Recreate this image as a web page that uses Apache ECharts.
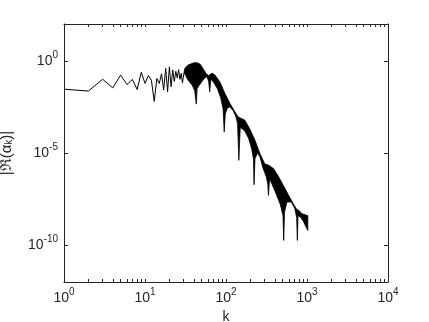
<!DOCTYPE html>
<html>
<head>
<meta charset="utf-8">
<script src="https://cdn.jsdelivr.net/npm/echarts@6.0.0/dist/echarts.min.js"></script>
<style>
html, body { margin: 0; padding: 0; background: #fff; }
#chart { width: 429px; height: 322px; }
</style>
</head>
<body>
<div id="chart"></div>
<script>
// sparse start of the spectrum, one point per k
var lineK = [1, 2, 3, 4, 5, 6, 7, 8, 9, 10, 11, 12, 13, 14, 15,
	16, 17, 18, 19, 20, 21, 22, 23, 24, 25, 26, 27, 28, 29, 30];
var lineVal = [2.9e-2, 2.3e-2, 1.0e-1, 3.4e-2, 1.7e-1, 5.2e-2, 9.8e-2, 2.8e-2, 2.4e-1, 6.0e-2,
	1.6e-1, 8.9e-2, 6.3e-3, 1.1e-1, 5.9e-2, 2.0e-1, 2.6e-2, 3.9e-1, 2.1e-2, 4.7e-1,
	3.9e-2, 3.2e-1, 7.6e-2, 2.7e-1, 1.2e-1, 3.3e-1, 1.0e-1, 2.1e-1, 6.3e-2, 1.8e-1];

// dense part (k >= 30): the oscillation fills a band, read as its two envelopes
var upperK = [30, 31, 34, 40, 44, 48, 52, 57, 61, 64, 67, 73, 84, 97, 112, 129, 141,
	171, 196, 228, 262, 302, 335, 388, 448, 515, 594, 685, 753, 790, 867, 1000, 1024];
var upperVal = [1.8e-1, 3.9e-1, 5.9e-1, 7.9e-1, 7.9e-1, 6.6e-1, 3.9e-1, 2.0e-1, 1.6e-1, 1.8e-1,
	2.2e-1, 1.7e-1, 7.2e-2, 1.7e-2, 4.8e-3, 1.7e-3, 9.1e-4,
	6.0e-4, 2.1e-4, 4.9e-5, 9.3e-6, 2.5e-6, 2.2e-6, 1.4e-6, 5.0e-7, 1.6e-7, 5.0e-8, 1.6e-8,
	8.3e-9, 7.9e-9, 5.1e-9, 4.1e-9, 4.0e-9];
var lowerK = [30, 31, 34, 38, 41, 43, 44, 48, 53, 58, 61, 63, 65, 70, 78, 86, 92, 95, 98,
	104, 112, 122, 132, 139, 144, 150, 170, 190, 208, 218, 222, 228, 245, 262, 285, 315,
	328, 334, 345, 406, 468, 505, 516, 528, 566, 640, 705, 745, 760, 775, 830, 900, 960, 1024];
var lowerVal = [1.8e-1, 2.0e-1, 8.9e-2, 5.0e-2, 2.5e-2, 4.5e-3, 3.2e-2, 5.6e-2, 1.0e-1, 1.4e-1,
	7.9e-2, 2.1e-2, 1.0e-1, 7.1e-2, 3.2e-2, 1.0e-2, 2.5e-3, 1.4e-4, 1.3e-3,
	2.8e-3, 3.2e-3, 2.0e-3, 1.0e-3, 4.0e-4, 4.0e-6, 2.5e-4, 1.6e-4, 6.3e-5, 1.6e-5, 5.0e-6,
	1.9e-7, 5.0e-6, 1.0e-5, 6.3e-6, 1.6e-6, 5.0e-7,
	2.0e-7, 5.0e-8, 4.0e-7, 7.9e-8, 1.6e-8, 4.0e-9, 1.8e-10, 6.3e-9, 2.2e-8, 2.2e-8, 1.0e-8,
	3.2e-9, 1.8e-10, 4.0e-9, 3.3e-9, 2.0e-9, 1.1e-9, 6.3e-10];

// tick labels
var xLabelValues = [1, 10, 100, 1000, 10000];
var yLabelValues = [1e-10, 1e-5, 1];
var xDecades = [1, 10, 100, 1000];
var xSteps = [1, 2, 3, 4, 5, 6, 7, 8, 9];

var axisColor = '#262626';
var font = 'Liberation Sans, Arial, sans-serif';

var xTickValues = [];
xDecades.forEach(function (d) {
	xSteps.forEach(function (s) { xTickValues.push(d * s); });
});
xTickValues.push(10000);

var lineData = lineK.map(function (k, i) { return [k, lineVal[i]]; });
// band outline: along the upper envelope, back along the lower one
var bandData = upperK.map(function (k, i) { return [k, upperVal[i]]; });
for (var i = lowerK.length - 1; i >= 0; i -= 1) {
	bandData.push([lowerK[i], lowerVal[i]]);
}

function powLabel(v) {
	var e = Math.round(Math.log10(v));
	return '{b|10}{s|' + e + '}';
}

var labelRich = {
	b: { fontSize: 14, lineHeight: 22, color: axisColor, fontFamily: font },
	s: { fontSize: 10, lineHeight: 14, verticalAlign: 'top', color: axisColor, fontFamily: font },
};

function xAxisOf(pos, withLabels) {
	return {
		type: 'log',
		logBase: 10,
		min: 1,
		max: 10000,
		position: pos,
		axisLine: { show: true, onZero: false, lineStyle: { color: axisColor, width: 1 } },
		axisTick: { show: true, inside: true, length: 3, customValues: xTickValues, lineStyle: { color: axisColor } },
		axisLabel: { show: withLabels, customValues: xLabelValues, formatter: powLabel, rich: labelRich, margin: 5 },
		splitLine: { show: false },
		minorTick: { show: false },
	};
}

function yAxisOf(pos, withLabels) {
	return {
		type: 'log',
		logBase: 10,
		min: 1e-12,
		max: 1e2,
		position: pos,
		axisLine: { show: true, onZero: false, lineStyle: { color: axisColor, width: 1 } },
		axisTick: { show: true, inside: true, length: 4, customValues: yLabelValues, lineStyle: { color: axisColor } },
		axisLabel: { show: withLabels, customValues: yLabelValues, formatter: powLabel, rich: labelRich, margin: 6 },
		splitLine: { show: false },
		minorTick: { show: false },
	};
}

var bottomX = xAxisOf('bottom', true);
bottomX.name = 'k';
bottomX.nameLocation = 'middle';
bottomX.nameGap = 25;
bottomX.nameTextStyle = { fontSize: 14, color: axisColor, fontFamily: font };

var leftY = yAxisOf('left', true);
leftY.name = '|ℜ(α{sub|k})|';
leftY.nameLocation = 'middle';
leftY.nameRotate = 90;
leftY.nameGap = 50;
leftY.nameTextStyle = {
	fontSize: 15, color: axisColor, fontFamily: font,
	rich: { sub: { fontSize: 10, verticalAlign: 'bottom', color: axisColor, fontFamily: font } },
};

var chart = echarts.init(document.getElementById('chart'), null, { renderer: 'canvas' });
chart.setOption({
	animation: false,
	backgroundColor: '#fff',
	grid: { left: 64, right: 41, top: 24, bottom: 40, containLabel: false, outerBoundsMode: 'none' },
	xAxis: [bottomX, xAxisOf('top', false)],
	yAxis: [leftY, yAxisOf('right', false)],
	series: [
		{
			type: 'line',
			data: lineData,
			showSymbol: false,
			symbol: 'none',
			lineStyle: { color: '#000', width: 1 },
			z: 3,
		},
		{
			type: 'custom',
			data: bandData,
			clip: true,
			z: 3,
			renderItem: function (params, api) {
				if (params.dataIndex !== 0) return null;
				var pts = bandData.map(function (p) { return api.coord(p); });
				return {
					type: 'polygon',
					shape: { points: pts },
					style: { fill: '#000', stroke: '#000', lineWidth: 0.8 },
				};
			},
		},
	],
});
</script>
</body>
</html>
